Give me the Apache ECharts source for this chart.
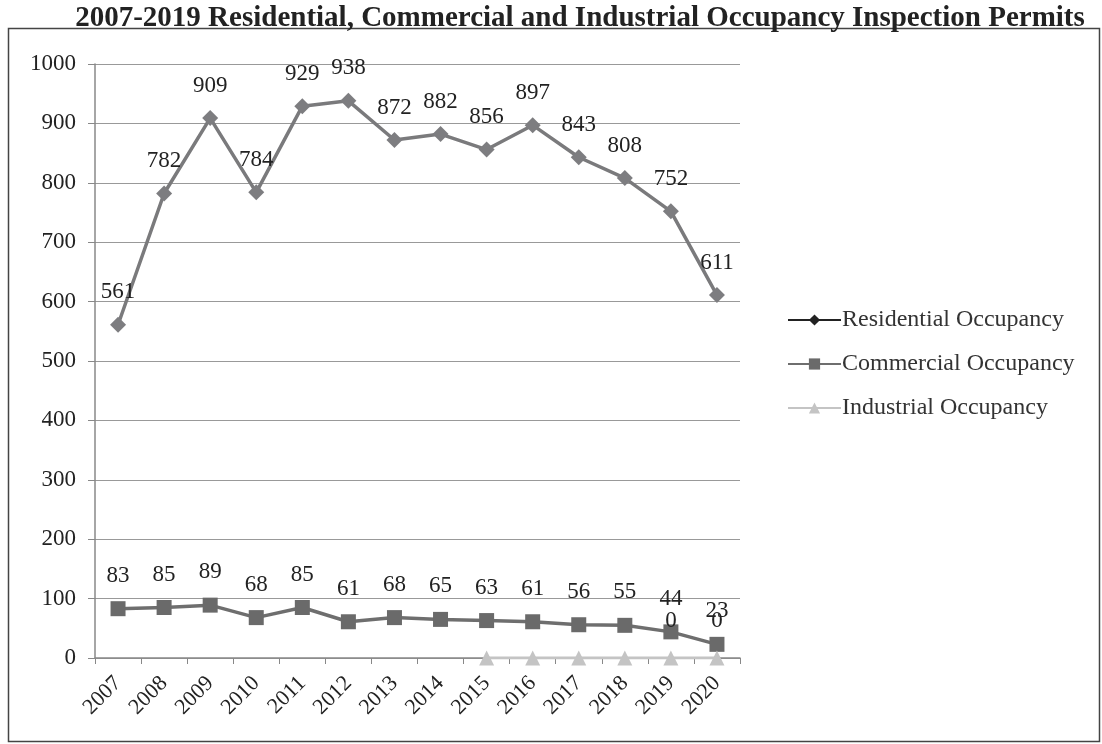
<!DOCTYPE html>
<html><head><meta charset="utf-8">
<script src="https://cdn.jsdelivr.net/npm/echarts@6/dist/echarts.min.js"></script>
<style>html,body{margin:0;padding:0;background:#fff}#c{width:1102px;height:744px}</style>
</head><body><div id="c"></div>
<script>
var years = ['2007','2008','2009','2010','2011','2012','2013','2014','2015','2016','2017','2018','2019','2020'];
var residential = [561,782,909,784,929,938,872,882,856,897,843,808,752,611];
var commercial = [83,85,89,68,85,61,68,65,63,61,56,55,44,23];
var industrial = [null,null,null,null,null,null,null,null,0,0,0,0,0,0];
var industrialLabelled = ['2019','2020'];
var yTicks = [0,100,200,300,400,500,600,700,800,900,1000];

var FONT = '"Liberation Serif", "DejaVu Serif", serif';
var chart = echarts.init(document.getElementById('c'));
var indData = industrial.map(function(v,i){
  return {value:v, label:{show: industrialLabelled.indexOf(years[i])>=0}};
});
chart.setOption({
  animation:false,
  title:{text:'2007-2019 Residential, Commercial and Industrial Occupancy Inspection Permits',
    left:575, textAlign:'center', top:-1,
    textStyle:{fontFamily:FONT, fontWeight:'bold', fontSize:29, color:'#222'}},
  graphic:[{type:'rect', shape:{x:8.5,y:28.5,width:1091,height:713}, style:{fill:null, stroke:'#444', lineWidth:1.5}}],
  grid:{left:95, right:362, top:64, bottom:86},
  legend:{orient:'vertical', left:782, top:303, itemWidth:53, itemHeight:14, itemGap:20,
    textStyle:{fontFamily:FONT, fontSize:24, color:'#333', padding:[0,0,0,-4]},
    data:[{name:'Residential Occupancy', itemStyle:{color:'#222'}, lineStyle:{color:'#222'}},
          {name:'Commercial Occupancy'},
          {name:'Industrial Occupancy'}]},
  xAxis:{type:'category', data:years, boundaryGap:true,
    axisLine:{lineStyle:{color:'#888', width:1.5}},
    axisTick:{show:true, alignWithLabel:false, length:6, lineStyle:{color:'#888'}},
    axisLabel:{rotate:45, fontFamily:FONT, fontSize:22, color:'#222', margin:22}},
  yAxis:{type:'value', min:0, max:1000, interval:100,
    axisLine:{show:true, lineStyle:{color:'#888', width:1.5}},
    axisTick:{show:true, length:7, lineStyle:{color:'#888'}},
    splitLine:{lineStyle:{color:'#999', width:1.2}},
    axisLabel:{fontFamily:FONT, fontSize:23, color:'#222', margin:19,
      formatter:function(v){return yTicks.indexOf(v)>=0? String(v):'';}}},
  series:[
    {name:'Residential Occupancy', type:'line', data:residential, symbol:'diamond', symbolSize:16,
      lineStyle:{color:'#7a7a7c', width:3.5}, itemStyle:{color:'#7d7d80'},
      label:{show:true, position:'top', distance:13, fontFamily:FONT, fontSize:23, color:'#222'}},
    {name:'Commercial Occupancy', type:'line', data:commercial, symbol:'rect', symbolSize:15,
      lineStyle:{color:'#6e6e6e', width:3.5}, itemStyle:{color:'#6a6a6a'},
      label:{show:true, position:'top', distance:14, fontFamily:FONT, fontSize:23, color:'#222'}},
    {name:'Industrial Occupancy', type:'line', data:indData, symbol:'triangle', symbolSize:15,
      lineStyle:{color:'#c4c4c4', width:3}, itemStyle:{color:'#c4c4c4'},
      label:{show:false, position:'top', distance:18, fontFamily:FONT, fontSize:23, color:'#222'}}
  ]
});
</script></body></html>
